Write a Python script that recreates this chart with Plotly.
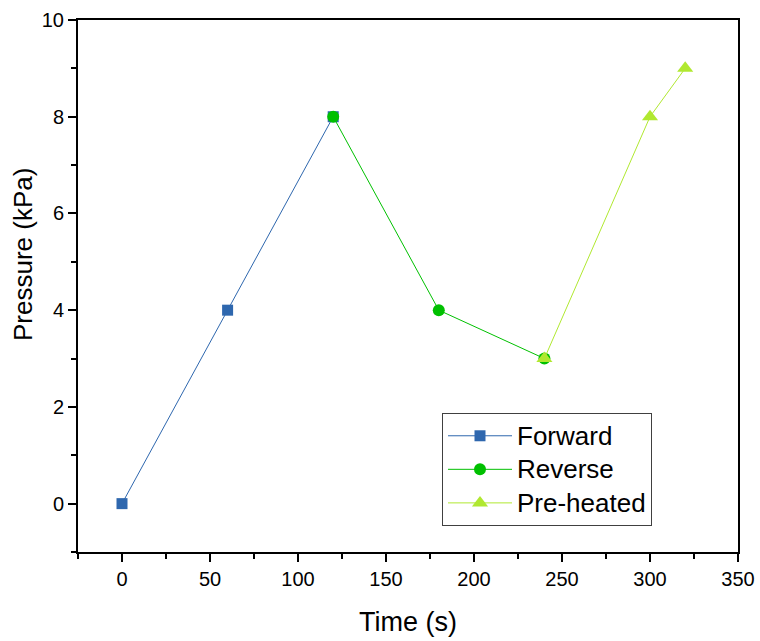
import plotly.graph_objects as go

forward_x = [0, 60, 120]
forward_y = [0, 4, 8]
reverse_x = [120, 180, 240]
reverse_y = [8, 4, 3]
preheat_x = [240, 300, 320]
preheat_y = [3, 8, 9]
names = ["Forward", "Reverse", "Pre-heated"]

FONT = "Arial, Liberation Sans, sans-serif"


def lname(s):
    return "<span style='font-size:26px'>" + s + "</span>"


fig = go.Figure()
fig.add_trace(go.Scatter(x=forward_x, y=forward_y, name=lname(names[0]), mode="lines+markers",
                         line=dict(color="#2E67AE", width=1),
                         marker=dict(symbol="square", size=11, color="#2E67AE")))
fig.add_trace(go.Scatter(x=reverse_x, y=reverse_y, name=lname(names[1]), mode="lines+markers",
                         line=dict(color="#00C000", width=1),
                         marker=dict(symbol="circle", size=12, color="#00C000")))
fig.add_trace(go.Scatter(x=preheat_x, y=preheat_y, name=lname(names[2]), mode="lines+markers",
                         line=dict(color="#B0E830", width=1),
                         marker=dict(symbol="triangle-up", size=14, color="#B0E830")))

axis_common = dict(showline=True, linecolor="black", linewidth=2, mirror=True,
                   showgrid=False, zeroline=False, ticks="outside", ticklen=8,
                   tickwidth=2, tickcolor="black", automargin=False,
                   tickfont=dict(family=FONT, size=20, color="black"))

L, R, T, B = 78, 22, 20, 89
W, H = 760, 641
pw, ph = W - L - R, H - T - B

fig.update_layout(
    width=W, height=H,
    margin=dict(l=L, r=R, t=T, b=B),
    plot_bgcolor="white", paper_bgcolor="white",
    xaxis=dict(range=[-25, 350], tickmode="array", tickvals=[0, 50, 100, 150, 200, 250, 300, 350],
               minor=dict(ticks="outside", ticklen=5, tickwidth=2, tickcolor="black", dtick=25, tick0=-25),
               **axis_common),
    yaxis=dict(range=[-1, 10], tickmode="array", tickvals=[0, 2, 4, 6, 8, 10],
               minor=dict(ticks="outside", ticklen=5, tickwidth=2, tickcolor="black", dtick=1, tick0=-1),
               **axis_common),
    legend=dict(x=(442 - L) / pw, y=(T + ph - 413) / ph, xanchor="left", yanchor="top",
                bordercolor="#404040", borderwidth=1, bgcolor="white",
                font=dict(family=FONT, size=23.5, color="black"),
                itemwidth=64, tracegroupgap=0),
    showlegend=True,
    annotations=[
        dict(text="Time (s)", xref="paper", yref="paper",
             x=(408 - L) / pw, y=-(622 - (T + ph)) / ph, xanchor="center", yanchor="middle",
             showarrow=False, font=dict(family=FONT, size=27, color="black")),
        dict(text="Pressure (kPa)", xref="paper", yref="paper",
             x=-(L - 23) / pw, y=(T + ph - 255) / ph, xanchor="center", yanchor="middle",
             textangle=-90, showarrow=False, font=dict(family=FONT, size=26, color="black")),
    ],
)

fig.write_html("out.html")
